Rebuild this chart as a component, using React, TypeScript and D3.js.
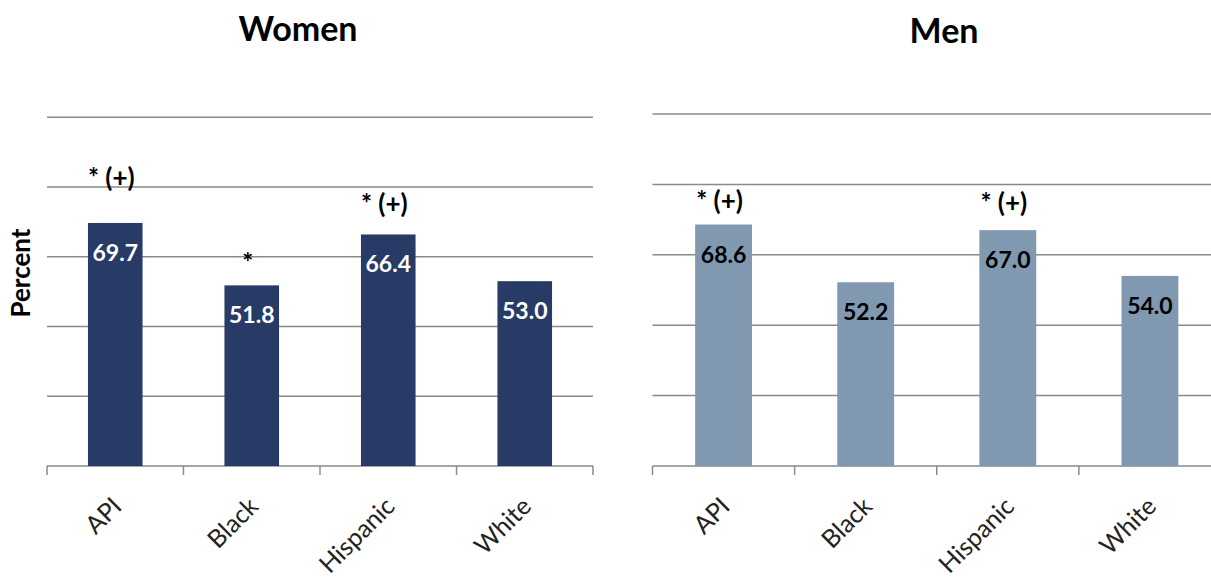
import React from "react";
import * as d3 from "d3";

const categories = ["API", "Black", "Hispanic", "White"];
const womenValues = [69.7, 51.8, 66.4, 53.0];
const menValues = [68.6, 52.2, 67.0, 54.0];
const womenMarks = ["* (+)", "*", "* (+)", ""];
const menMarks = ["* (+)", "", "* (+)", ""];
const gridTicks = [20, 40, 60, 80, 100];

const FONT = "Lato, 'Open Sans', sans-serif";

type PanelProps = {
  title: string;
  titleX: number;
  titleY: number;
  values: number[];
  marks: string[];
  markLift: number[];
  x0: number;
  x1: number;
  yTop: number;
  color: string;
  labelColor: string;
};

const BASE = 466;

function Panel(p: PanelProps) {
  const x = d3.scaleBand<string>().domain(categories).range([p.x0, p.x1]).padding(0);
  const y = d3.scaleLinear().domain([0, 100]).range([BASE, p.yTop]);
  const bw = x.bandwidth() * 0.4;
  const edges = categories.map((c) => x(c) as number).concat([p.x1]);
  return (
    <g>
      <text x={p.titleX} y={p.titleY} textAnchor="middle" fontFamily={FONT} fontWeight={700} fontSize={34} fill="#000">
        {p.title}
      </text>
      {gridTicks.map((t) => (
        <line key={t} x1={p.x0} x2={p.x1} y1={y(t)} y2={y(t)} stroke="#898989" strokeWidth={1.5} />
      ))}
      <line x1={p.x0} x2={p.x1} y1={y(0)} y2={y(0)} stroke="#898989" strokeWidth={1.5} />
      {edges.map((e, i) => (
        <line key={i} x1={e} x2={e} y1={y(0)} y2={y(0) + 9} stroke="#898989" strokeWidth={1.5} />
      ))}
      {categories.map((c, i) => {
        const cx = (x(c) as number) + x.bandwidth() / 2;
        const top = y(p.values[i]);
        return (
          <g key={c}>
            <rect x={cx - bw / 2} y={top} width={bw} height={y(0) - top} fill={p.color} />
            <text x={cx} y={top + 38} textAnchor="middle" fontFamily={FONT} fontWeight={700} fontSize={23} fill={p.labelColor}>
              {p.values[i].toFixed(1)}
            </text>
            {p.marks[i] && (
              <text x={cx - 4} y={top - p.markLift[i]} textAnchor="middle" fontFamily={FONT} fontWeight={700} fontSize={26} fill="#000">
                {p.marks[i]}
              </text>
            )}
            <text
              transform={`translate(${cx + 8},${BASE + 42}) rotate(-45)`}
              textAnchor="end"
              fontFamily={FONT}
              fontSize={25}
              fill="#222"
            >
              {c}
            </text>
          </g>
        );
      })}
    </g>
  );
}

export default function App() {
  return (
    <svg width={1211} height={577} style={{ position: "absolute", left: 0, top: 0, background: "#fff" }}>
      <rect width={1211} height={577} fill="#fff" />
      <text transform="translate(30,273) rotate(-90)" textAnchor="middle" fontFamily={FONT} fontWeight={700} fontSize={26} fill="#000">
        Percent
      </text>
      <Panel
        title="Women"
        titleX={298}
        titleY={41}
        values={womenValues}
        marks={womenMarks}
        markLift={[36, 13, 21, 0]}
        x0={47}
        x1={593}
        yTop={117.3}
        color="#283B66"
        labelColor="#fff"
      />
      <Panel
        title="Men"
        titleX={944}
        titleY={43}
        values={menValues}
        marks={menMarks}
        markLift={[15, 0, 18, 0]}
        x0={652.5}
        x1={1221}
        yTop={114}
        color="#8098B0"
        labelColor="#000"
      />
    </svg>
  );
}
